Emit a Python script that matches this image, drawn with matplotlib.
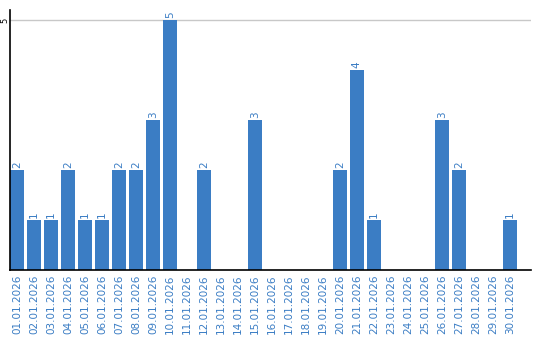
import matplotlib
matplotlib.use("Agg")
import matplotlib.pyplot as plt
import numpy as np

dates = ["%02d.01.2026" % d for d in range(1, 31)]
counts = [2, 1, 1, 2, 1, 1, 2, 2, 3, 5,
          0, 2, 0, 0, 3, 0, 0, 0, 0, 2,
          4, 1, 0, 0, 0, 3, 2, 0, 0, 1]

blue = "#3b7dc4"

fig = plt.figure(figsize=(5.4, 3.4), dpi=100)
ax = fig.add_axes([10 / 540, 1 - 270 / 340, 521 / 540, 260 / 340])

x = np.arange(len(dates))
bars = ax.bar(x, counts, width=0.82, color=blue, zorder=2)

for xi, c in zip(x, counts):
    if c > 0:
        ax.text(xi, c + 0.04, str(c), rotation=90, ha="center", va="bottom",
                fontsize=7.5, color=blue)

ax.set_xlim(-0.41, 30.24)
ax.set_ylim(0, 5.2)
ax.set_xticks(x)
ax.set_xticklabels(dates, rotation=90, fontsize=7.5, color=blue)
ax.set_yticks([5])
ax.set_yticklabels(["5"], rotation=90, fontsize=6, va="center")
ax.tick_params(length=0, pad=3)
ax.tick_params(axis="y", pad=0.5)
ax.grid(axis="y", color="#c8c8c8", linewidth=1, zorder=0)
ax.spines["top"].set_visible(False)
ax.spines["right"].set_visible(False)
ax.spines["left"].set_color("black")
ax.spines["bottom"].set_color("black")
ax.spines["left"].set_linewidth(1.2)
ax.spines["bottom"].set_linewidth(1.2)

fig.savefig("out.png", dpi=100)
